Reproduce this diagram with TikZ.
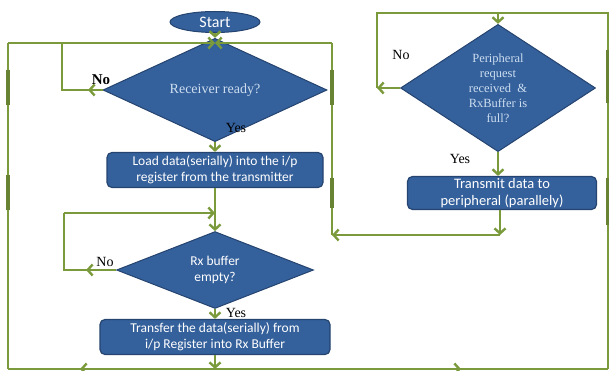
\documentclass[tikz,border=0pt]{standalone}
\usepackage{fontspec}
\setmainfont{Liberation Serif}
\newfontfamily\boxfont{Carlito}
\usetikzlibrary{shapes.geometric,arrows.meta}
\definecolor{flowgreen}{RGB}{122,154,60}
\definecolor{boxfill}{RGB}{52,96,155}
\definecolor{boxline}{RGB}{37,68,112}
\definecolor{paletext}{RGB}{205,222,240}
\tikzset{
  link/.style={draw=flowgreen, line width=2.4pt},
  tip/.style={-{Straight Barb[length=5pt,width=11pt]}},
  heavy/.style={draw=flowgreen!85!black, line width=4.5pt},
  procbox/.style={rectangle, rounded corners=5pt, fill=boxfill, draw=boxline,
    line width=1.2pt, text=white, font=\boxfont\fontsize{13.5}{16}\selectfont,
    align=center, inner sep=0pt},
  decision/.style={diamond, fill=boxfill, draw=boxline, line width=1pt,
    inner sep=0pt, align=center},
  lbl/.style={font=\fontsize{14}{16}\selectfont, text=black, inner sep=0pt},
}
\begin{document}
\begin{tikzpicture}[x=1pt,y=-1pt]
\useasboundingbox (0,0) rectangle (609,371);

% ---- blocks ----
\node[ellipse, fill=boxfill, draw=boxline, line width=1pt, minimum width=90pt,
  minimum height=21pt, inner sep=0pt, text=white,
  font=\boxfont\fontsize{16}{18}\selectfont] (start) at (215,22) {Start};
\node[decision, minimum width=224pt, minimum height=55pt, text=paletext,
  font=\fontsize{14}{16}\selectfont] (rr) at (215,90) {Receiver ready?};
\node[procbox, minimum width=216pt, minimum height=35pt] (load) at (215,170)
  {Load data(serially) into the i/p\\register from the transmitter};
\node[decision, minimum width=197pt, minimum height=54pt, text=white,
  font=\boxfont\fontsize{13.5}{16}\selectfont] (rx) at (215,270) {Rx buffer\\empty?};
\node[procbox, minimum width=230pt, minimum height=35pt] (xfer) at (215,337)
  {Transfer the data(serially) from\\i/p Register into Rx Buffer};
\node[decision, minimum width=195pt, minimum height=109pt, text=paletext,
  font=\fontsize{12.5}{15}\selectfont] (per) at (498,88)
  {Peripheral\\request\\received \ \&\\RxBuffer is\\full?};
\node[procbox, minimum width=189pt, minimum height=33pt,
  font=\boxfont\fontsize{14.5}{17}\selectfont] (tx) at (502,193)
  {Transmit data to\\peripheral (parallely)};

% ---- routing points ----
\coordinate (join) at (215,43);
\coordinate (tl) at (8,43);
\coordinate (tr) at (332,43);
\coordinate (bl) at (8,369);
\coordinate (br) at (608,369);
\coordinate (bx) at (215,369);
\coordinate (botl) at (80,369);
\coordinate (botr) at (461,369);
\coordinate (rtop) at (608,13);
\coordinate (ptop) at (498,13);
\coordinate (ptl) at (377,13);
\coordinate (pno) at (377,88);
\coordinate (rrno) at (62,90);
\coordinate (rrnotip) at (88,90);
\coordinate (rrtop) at (62,43);
\coordinate (rxno) at (64,270);
\coordinate (rxnotip) at (86,270);
\coordinate (rxtop) at (64,213);
\coordinate (rxin) at (215,213);
\coordinate (txout) at (500,235);
\coordinate (retl) at (332,235);

% ---- receive path ----
\draw[link,tip] (start.south) -- (rr.north);
\draw[link,tip] (tl) -- (join);
\draw[link,tip] (tr) -- (join);
\draw[link] (rr.west) -- (rrno) -- (rrtop);
\draw[link,tip] (rr.west) -- (rrnotip);
\draw[link,tip] (rr.south) -- (load.north);
\draw[link,tip] (load.south) -- (rx.north);
\draw[link] (rx.west) -- (rxno) -- (rxtop);
\draw[link,tip] (rx.west) -- (rxnotip);
\draw[link,tip] (rxtop) -- (rxin);
\draw[link,tip] (rx.south) -- (xfer.north);
\draw[link,tip] (xfer.south) -- (bx);

% ---- outer loops ----
\draw[link] (bl) -- (br);
\draw[link,tip] (bx) -- (botl);
\draw[link,tip] (bx) -- (botr);
\draw[link] (bl) -- (tl);
\draw[link] (br) -- (rtop) -- (ptl) -- (pno);
\draw[link,tip] (ptop) -- (per.north);
\draw[link,tip] (per.west) -- (pno);
\draw[link,tip] (per.south) -- (per.south |- tx.north);
\draw[link,tip] (tx.south -| txout) -- (txout);
\draw[link,tip] (txout) -- (retl);
\draw[link] (retl) -- (tr);

% ---- heavy marks along the vertical runs ----
\draw[heavy] (8,70) -- (8,105);
\draw[heavy] (8,175) -- (8,210);
\draw[heavy] (332,70) -- (332,105);
\draw[heavy] (332,178) -- (332,208);
\draw[heavy] (608,50) -- (608,103);
\draw[heavy] (608,178) -- (608,225);

% ---- labels ----
\node[lbl, font=\bfseries\fontsize{15}{17}\selectfont] (no1) at (101,80) {No};
\node[lbl] (yes1) at (236,128) {Yes};
\node[lbl] (no2) at (105,262) {No};
\node[lbl] (yes2) at (236,313) {Yes};
\node[lbl] (no3) at (401,55) {No};
\node[lbl] (yes3) at (460,159) {Yes};
\end{tikzpicture}
\end{document}
